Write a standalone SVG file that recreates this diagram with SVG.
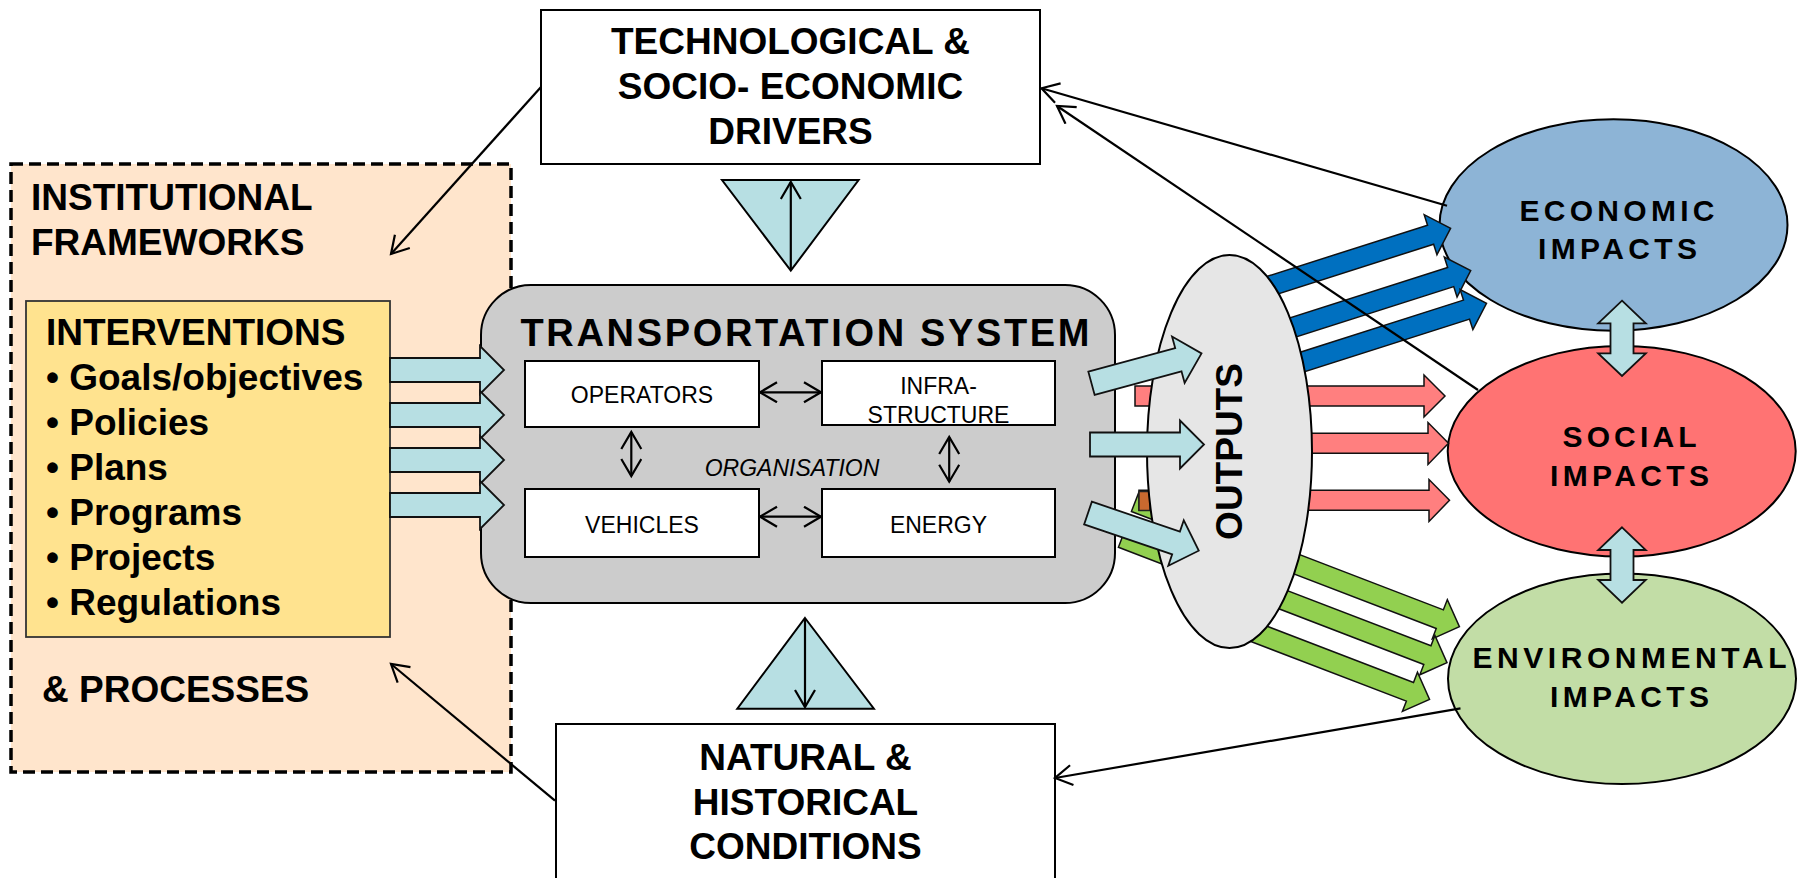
<svg xmlns="http://www.w3.org/2000/svg" width="1802" height="878" viewBox="0 0 1802 878">
<defs>
<style>
.b{font-family:"Liberation Sans",Arial,sans-serif;font-weight:bold;fill:#000}
.r{font-family:"Liberation Sans",Arial,sans-serif;fill:#000}
.box{fill:#fff;stroke:#000;stroke-width:2}
.inner{fill:#fff;stroke:#000;stroke-width:2}
.lb{fill:#B7DFE3;stroke:#111;stroke-width:1.8}
.blue{fill:#0070C0;stroke:#111;stroke-width:1.5}
.red{fill:#FF7F7F;stroke:#111;stroke-width:1.5}
.green{fill:#92D050;stroke:#111;stroke-width:1.5}
.ln{fill:none;stroke:#000;stroke-width:2.2}
</style>
<marker id="oa" markerUnits="userSpaceOnUse" markerWidth="22" markerHeight="24" refX="18" refY="11" orient="auto-start-reverse">
<path d="M1,1 L18,11 L1,21" fill="none" stroke="#000" stroke-width="2.2"/>
</marker>
</defs>

<g id="institutional">
<rect x="11" y="164" width="500" height="608" fill="#FFE5CC" stroke="#000" stroke-width="3.5" stroke-dasharray="12 6"/>
<text class="b" x="31" y="210" font-size="37">INSTITUTIONAL</text>
<text class="b" x="31" y="255" font-size="37">FRAMEWORKS</text>
<text class="b" x="42" y="702" font-size="37">&amp; PROCESSES</text>
</g>

<g id="interventions">
<rect x="26" y="301" width="364" height="336" fill="#FFE38F" stroke="#333" stroke-width="1.8"/>
<text class="b" x="46" y="345" font-size="37">INTERVENTIONS</text>
<text class="b" x="46" y="390" font-size="37">• Goals/objectives</text>
<text class="b" x="46" y="435" font-size="37">• Policies</text>
<text class="b" x="46" y="480" font-size="37">• Plans</text>
<text class="b" x="46" y="525" font-size="37">• Programs</text>
<text class="b" x="46" y="570" font-size="37">• Projects</text>
<text class="b" x="46" y="615" font-size="37">• Regulations</text>
</g>

<g id="drivers">
<rect class="box" x="541" y="10" width="499" height="154"/>
<text class="b" x="790.5" y="54" font-size="37" text-anchor="middle">TECHNOLOGICAL &amp;</text>
<text class="b" x="790.5" y="99" font-size="37" text-anchor="middle">SOCIO- ECONOMIC</text>
<text class="b" x="790.5" y="144" font-size="37" text-anchor="middle">DRIVERS</text>
</g>

<g id="conditions">
<rect class="box" x="556" y="724" width="499" height="170"/>
<text class="b" x="805.5" y="770" font-size="37" text-anchor="middle">NATURAL &amp;</text>
<text class="b" x="805.5" y="815" font-size="37" text-anchor="middle">HISTORICAL</text>
<text class="b" x="805.5" y="859" font-size="37" text-anchor="middle">CONDITIONS</text>
</g>

<g id="triangle-top">
<polygon class="lb" points="722,180 858.6,180 790.8,270.7" style="stroke:#000;stroke-width:2"/>
</g>
<g id="triangle-bottom">
<polygon class="lb" points="805,618 873.9,708.7 737.3,708.7" style="stroke:#000;stroke-width:2"/>
</g>

<g id="transportation-system">
<rect x="481" y="285" width="634" height="318" rx="50" ry="50" fill="#CCCCCC" stroke="#000" stroke-width="2"/>
<text class="b" x="805" y="346" font-size="38" text-anchor="middle" textLength="569" lengthAdjust="spacing">TRANSPORTATION SYSTEM</text>
<text class="r" x="792" y="476" font-size="23" font-style="italic" text-anchor="middle">ORGANISATION</text>
</g>
<g id="operators">
<rect class="inner" x="525" y="361" width="234" height="66"/>
<text class="r" x="642" y="403" font-size="23" text-anchor="middle">OPERATORS</text>
</g>
<g id="infrastructure">
<rect class="inner" x="822" y="361" width="233" height="64"/>
<text class="r" x="938.5" y="394" font-size="23" text-anchor="middle">INFRA-</text>
<text class="r" x="938.5" y="423" font-size="23" text-anchor="middle">STRUCTURE</text>
</g>
<g id="vehicles">
<rect class="inner" x="525" y="489" width="234" height="68"/>
<text class="r" x="642" y="533" font-size="23" text-anchor="middle">VEHICLES</text>
</g>
<g id="energy">
<rect class="inner" x="822" y="489" width="233" height="68"/>
<text class="r" x="938.5" y="533" font-size="23" text-anchor="middle">ENERGY</text>
</g>

<g id="economic-impacts">
<ellipse cx="1613.5" cy="225" rx="174" ry="105.7" fill="#8DB4D6" stroke="#000" stroke-width="2"/>
<text class="b" x="1617" y="221" font-size="30" text-anchor="middle" textLength="195" lengthAdjust="spacing">ECONOMIC</text>
<text class="b" x="1617.5" y="259" font-size="30" text-anchor="middle" textLength="159" lengthAdjust="spacing">IMPACTS</text>
</g>
<g id="social-impacts">
<ellipse cx="1621.7" cy="451.3" rx="174" ry="105.3" fill="#FF7373" stroke="#000" stroke-width="2"/>
<text class="b" x="1629.5" y="447" font-size="30" text-anchor="middle" textLength="134" lengthAdjust="spacing">SOCIAL</text>
<text class="b" x="1629.5" y="486" font-size="30" text-anchor="middle" textLength="159" lengthAdjust="spacing">IMPACTS</text>
</g>
<g id="environmental-impacts">
<ellipse cx="1622" cy="678.7" rx="174" ry="105.3" fill="#C2DDA6" stroke="#000" stroke-width="2"/>
<text class="b" x="1629.5" y="668" font-size="30" text-anchor="middle" textLength="314" lengthAdjust="spacing">ENVIRONMENTAL</text>
<text class="b" x="1629.5" y="707" font-size="30" text-anchor="middle" textLength="159" lengthAdjust="spacing">IMPACTS</text>
</g>

<g id="connectors-impacts">
<polygon class="blue" transform="translate(1225,300.3) rotate(-17.7)" points="0,-10 215.8,-10 215.8,-21 236.8,0 215.8,21 215.8,10 0,10"/>
<polygon class="blue" transform="translate(1225,349.1) rotate(-17.7)" points="0,-10 236.9,-10 236.9,-21 257.9,0 236.9,21 236.9,10 0,10"/>
<polygon class="blue" transform="translate(1225,386.7) rotate(-17.7)" points="0,-10 253.5,-10 253.5,-21 274.5,0 253.5,21 253.5,10 0,10"/>
<polygon class="green" transform="translate(1135,502.2) rotate(21)" points="0,-10 326.5,-10 326.5,-21 347.5,0 326.5,21 326.5,10 0,10"/>
<polygon class="green" transform="translate(1122,537.9) rotate(21)" points="0,-10 327.1,-10 327.1,-21 348.1,0 327.1,21 327.1,10 0,10"/>
<polygon class="green" transform="translate(1215,617) rotate(21)" points="0,-10 208.8,-10 208.8,-21 229.8,0 208.8,21 208.8,10 0,10"/>
<polygon class="red" points="1135,386 1424,386 1424,375 1445,396 1424,417 1424,406 1135,406"/>
<polygon class="red" points="1200,433.3 1428,433.3 1428,422.5 1448.5,443.3 1428,464.5 1428,453.3 1200,453.3"/>
<polygon class="red" points="1139,490.3 1429,490.3 1429,479.5 1449.5,500.3 1429,521.5 1429,510.3 1139,510.3"/>
<rect x="1139" y="491.5" width="11" height="19" fill="#C8692F" stroke="#222" stroke-width="1.5"/>
</g>

<g id="outputs">
<ellipse cx="1229.5" cy="451.5" rx="82.5" ry="196.5" fill="#E6E6E6" stroke="#000" stroke-width="2"/>
<text class="b" transform="translate(1242,451.5) rotate(-90)" x="0" y="0" font-size="37" text-anchor="middle">OUTPUTS</text>
</g>

<g id="connectors-flows">
<polygon class="lb" points="390,358 480,358 480,346 504,370 480,394 480,382 390,382"/>
<polygon class="lb" points="390,403 480,403 480,391 504,415 480,439 480,427 390,427"/>
<polygon class="lb" points="390,448 480,448 480,436 504,460 480,484 480,472 390,472"/>
<polygon class="lb" points="390,493 480,493 480,481 504,505 480,529 480,517 390,517"/>
<polygon class="lb" transform="translate(1091.5,383.3) rotate(-15.2)" points="0,-12 90,-12 90,-24 114,0 90,24 90,12 0,12"/>
<polygon class="lb" transform="translate(1090,444.5)" points="0,-12 90,-12 90,-24 114,0 90,24 90,12 0,12"/>
<polygon class="lb" transform="translate(1088,513) rotate(18.8)" points="0,-12 93,-12 93,-24 117,0 93,24 93,12 0,12"/>
<polygon class="lb" points="1622,300.7 1645.8,323.3 1633.5,323.3 1633.5,353.3 1645.8,353.3 1622,376 1598.2,353.3 1610.5,353.3 1610.5,323.3 1598.2,323.3"/>
<polygon class="lb" points="1622,527.3 1645.8,550 1633.5,550 1633.5,580 1645.8,580 1622,602.7 1598.2,580 1610.5,580 1610.5,550 1598.2,550"/>
</g>

<g id="connectors">
<line class="ln" x1="541" y1="87" x2="391" y2="254" marker-end="url(#oa)"/>
<line class="ln" x1="555" y1="800.7" x2="391" y2="664" marker-end="url(#oa)"/>
<line class="ln" x1="1447" y1="205.7" x2="1041.5" y2="88.3" marker-end="url(#oa)"/>
<line class="ln" x1="1478" y1="390" x2="1057" y2="106" marker-end="url(#oa)"/>
<line class="ln" x1="1460.5" y1="708.3" x2="1055" y2="778" marker-end="url(#oa)"/>
<line class="ln" x1="790.8" y1="270" x2="790.8" y2="182" marker-end="url(#oa)"/>
<line class="ln" x1="805" y1="619" x2="805" y2="707" marker-end="url(#oa)"/>
<line class="ln" x1="760" y1="392.3" x2="821" y2="392.3" marker-start="url(#oa)" marker-end="url(#oa)"/>
<line class="ln" x1="760" y1="516.7" x2="821" y2="516.7" marker-start="url(#oa)" marker-end="url(#oa)"/>
<line class="ln" x1="631.3" y1="432" x2="631.3" y2="476" marker-start="url(#oa)" marker-end="url(#oa)"/>
<line class="ln" x1="949.2" y1="437" x2="949.2" y2="481.7" marker-start="url(#oa)" marker-end="url(#oa)"/>
</g>
</svg>
